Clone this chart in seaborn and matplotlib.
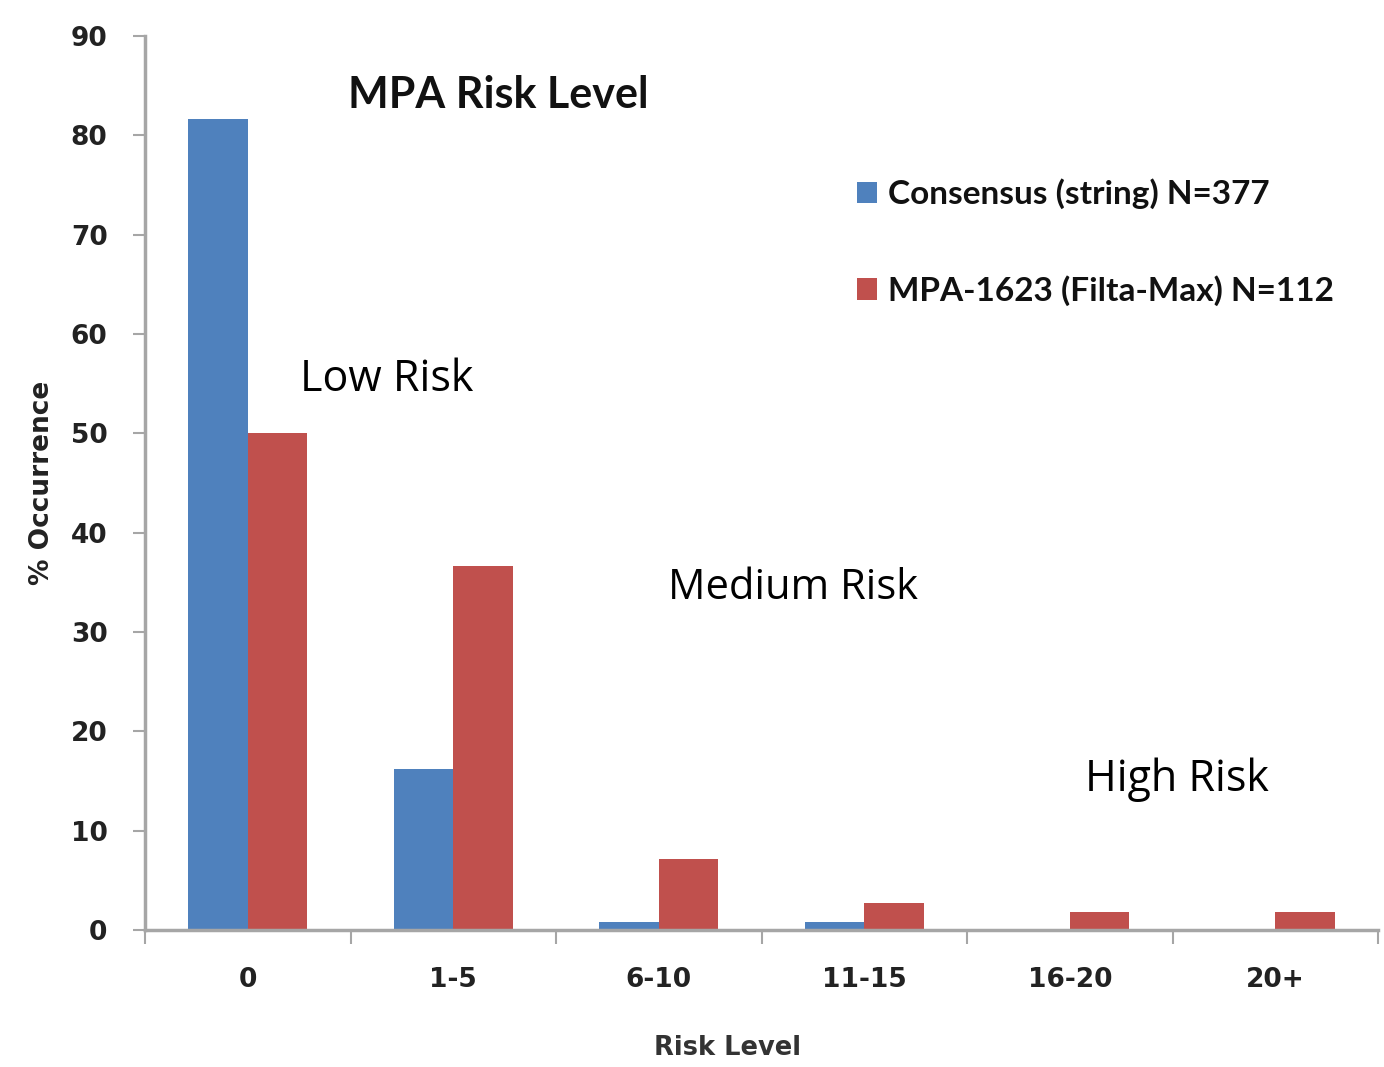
import matplotlib
matplotlib.use("Agg")
import matplotlib.pyplot as plt
import seaborn as sns
import pandas as pd
from matplotlib.ticker import FixedLocator

# Risk-level bins and percentage occurrence for each method
risk_levels = ["0", "1-5", "6-10", "11-15", "16-20", "20+"]
consensus_pct = [81.6, 16.2, 0.8, 0.8, 0.15, 0.15]
mpa1623_pct = [50.0, 36.6, 7.1, 2.7, 1.8, 1.8]
series_names = ["Consensus (string) N=377", "MPA-1623 (Filta-Max) N=112"]
series_colors = ["#4F81BD", "#C0504D"]
y_ticks = [0, 10, 20, 30, 40, 50, 60, 70, 80, 90]

df = pd.DataFrame({
    "Risk Level": risk_levels * 2,
    "pct": consensus_pct + mpa1623_pct,
    "series": [series_names[0]] * len(risk_levels) + [series_names[1]] * len(risk_levels),
})

sns.set_theme(style="white")
plt.rcParams["font.family"] = ["DejaVu Sans"]

fig = plt.figure(figsize=(13.84, 10.67), dpi=100)
ax = fig.add_axes([0.1048, 0.1284, 0.8909, 0.8379])

sns.barplot(data=df, x="Risk Level", y="pct", hue="series", order=risk_levels,
            hue_order=series_names, palette=series_colors, width=0.58,
            saturation=1, edgecolor="none", linewidth=0, ax=ax)

ax.set_xlim(-0.5, 5.5)
ax.set_ylim(0, 90)
ax.set_yticks(y_ticks)
ax.set_yticklabels([str(t) for t in y_ticks], fontsize=19, fontweight="bold", color="#222222")
ax.set_xticks(range(len(risk_levels)))
ax.set_xticklabels(risk_levels, fontsize=19, fontweight="bold", color="#222222")
ax.xaxis.set_minor_locator(FixedLocator([i - 0.5 for i in range(len(risk_levels) + 1)]))
ax.tick_params(axis="x", which="major", length=0, pad=27)
ax.tick_params(axis="x", which="minor", length=10, width=1.5, color="#A6A6A6", direction="out", bottom=True)
ax.tick_params(axis="y", which="major", length=9, width=1.5, color="#A6A6A6", direction="out", left=True, pad=18)

for side in ["top", "right"]:
    ax.spines[side].set_visible(False)
for side in ["left", "bottom"]:
    ax.spines[side].set_color("#A6A6A6")
    ax.spines[side].set_linewidth(2.5)

ax.set_xlabel("Risk Level", fontsize=18.5, fontweight="bold", color="#333333")
ax.xaxis.set_label_coords(0.472, -0.118)
ax.set_ylabel("% Occurrence", fontsize=19, fontweight="bold", color="#222222")
ax.yaxis.set_label_coords(-0.073, 0.5)

# Annotations inside the plot
ax.text(0.488, 84.1, "MPA Risk Level", fontsize=31, fontweight="bold", color="#111111",
        va="center", ha="left", family=["Lato", "DejaVu Sans"])
ax.text(0.254, 55.4, "Low Risk", fontsize=31, color="#000000", va="center", ha="left",
        family=["Open Sans", "DejaVu Sans"])
ax.text(2.045, 34.4, "Medium Risk", fontsize=30, color="#000000", va="center", ha="left",
        family=["Open Sans", "DejaVu Sans"])
ax.text(4.074, 15.1, "High Risk", fontsize=31, color="#000000", va="center", ha="left",
        family=["Open Sans", "DejaVu Sans"])

leg = ax.legend(loc="upper left", bbox_to_anchor=(0.5975, 0.861), bbox_transform=fig.transFigure,
                frameon=False, labelspacing=1.98, handlelength=0.6, handleheight=0.6,
                handletextpad=0.33, title=None,
                prop={"family": ["Lato", "DejaVu Sans"], "weight": "bold", "size": 24})
for t in leg.get_texts():
    t.set_color("#111111")

fig.savefig("out.png", dpi=100)
